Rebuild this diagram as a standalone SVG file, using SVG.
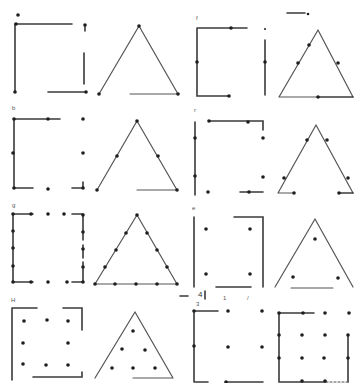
<svg xmlns="http://www.w3.org/2000/svg" width="356" height="383" viewBox="0 0 356 383">
<style>
.l{stroke:#3a3a3a;stroke-width:1.6;fill:none;stroke-linecap:round}
.t{stroke:#555;stroke-width:1.2;fill:none;stroke-linecap:round}
.d{fill:#1e1e1e}
.lb{font-family:"Liberation Sans",Arial,sans-serif;font-size:6px;fill:#555}
.nm{font-family:"Liberation Sans",Arial,sans-serif;font-size:8px;fill:#333}
</style>
<defs><circle id="p" r="1.8" class="d"/></defs>
<rect width="356" height="383" fill="#fff"/>
<g id="connectors">
<!-- fig a -->
<path class="l" d="M16,24H72M85,25V31M15,24V92M84,53V84M48,92H86"/>
<path class="t" d="M139,26L99,94M139,26L178,94M130,94H178"/>
<!-- fig b -->
<path class="l" d="M197,28H247M197,28V96H229M265,40V95"/>
<path class="t" d="M318,30L279,97M318,30L353,97M279,97H318"/>
<path class="l" d="M318,97H353M287,13H305"/>
<!-- fig c -->
<path class="l" d="M14,119H60M14,119V188H33M83,182V188M72,188H83"/>
<path class="t" d="M137,121L97,190M137,121L177,190M137,190H177"/>
<!-- fig d -->
<path class="l" d="M195,122V195M209,121H263V130M240,192H263"/>
<path class="t" d="M316,125L278,193M316,125L353,193M278,193H294"/>
<path class="l" d="M339,193H353"/>
<!-- fig e -->
<path class="l" d="M13,214V282M13,214H33M72,214H83M83,214V240M83,245V258M83,262V282M13,282H33M72,282H83"/>
<path class="t" d="M137,215L95,284M137,215L177,284M95,284H177"/>
<!-- fig f -->
<path class="l" d="M194,217V287M234,217H263V287M216,287H251"/>
<path class="t" d="M315,219L275,287M315,219L353,287M291,288H333"/>
<!-- fig g -->
<path class="l" d="M12,308V380M12,308H37M63,308H82V330M33,377H82V372"/>
<path class="t" d="M135,312L95,378M135,312L173,378M133,378H173"/>
<!-- fig h -->
<path class="l" d="M194,311V382M194,311H218M194,382H208M226,382H263"/>
<path class="l" d="M180,296H188M205,291V299"/>
<!-- fig i -->
<path class="l" d="M279,313H314M279,313V382H326M348,335V382"/>
<path class="t" d="M326,382H348" stroke-dasharray="2 2"/>
</g>
<g id="fig-a">
<use href="#p" x="18" y="15"/><use href="#p" x="16" y="24"/><use href="#p" x="85" y="25"/><use href="#p" x="15" y="92"/><use href="#p" x="86" y="92"/>
<use href="#p" x="139" y="26"/><use href="#p" x="99" y="94"/><use href="#p" x="178" y="94"/>
</g>
<g id="fig-b">
<text class="lb" x="196" y="20">f</text>
<use href="#p" x="231" y="28"/><use href="#p" x="197" y="62"/><use href="#p" x="229" y="96"/><use href="#p" x="265" y="62"/>
<circle cx="265" cy="29" r="1" class="d"/>
<use href="#p" x="309" y="45"/><use href="#p" x="298" y="63"/><use href="#p" x="338" y="63"/><use href="#p" x="318" y="97"/>
<circle cx="308" cy="14" r="1.3" class="d"/>
</g>
<g id="fig-c">
<text class="lb" x="12" y="110">b</text>
<use href="#p" x="14" y="119"/><use href="#p" x="48" y="119"/><use href="#p" x="83" y="119"/>
<use href="#p" x="13" y="153"/><use href="#p" x="83" y="153"/>
<use href="#p" x="14" y="188"/><use href="#p" x="48" y="189"/><use href="#p" x="83" y="188"/>
<use href="#p" x="137" y="121"/><use href="#p" x="117" y="156"/><use href="#p" x="158" y="156"/><use href="#p" x="97" y="190"/><use href="#p" x="177" y="190"/>
</g>
<g id="fig-d">
<text class="lb" x="194" y="112">r</text>
<use href="#p" x="195" y="138"/><use href="#p" x="195" y="176"/><use href="#p" x="209" y="121"/><use href="#p" x="248" y="122"/>
<use href="#p" x="263" y="138"/><use href="#p" x="263" y="177"/><use href="#p" x="208" y="192"/><use href="#p" x="249" y="192"/>
<use href="#p" x="307" y="140"/><use href="#p" x="284" y="178"/><use href="#p" x="327" y="140"/><use href="#p" x="348" y="178"/>
<use href="#p" x="294" y="193"/><use href="#p" x="339" y="193"/>
</g>
<g id="fig-e">
<text class="lb" x="12" y="207">g</text>
<use href="#p" x="13" y="214"/><use href="#p" x="13" y="231"/><use href="#p" x="13" y="248"/><use href="#p" x="13" y="266"/><use href="#p" x="13" y="282"/>
<use href="#p" x="31" y="214"/><use href="#p" x="48" y="214"/><use href="#p" x="64" y="214"/><use href="#p" x="83" y="215"/>
<use href="#p" x="83" y="232"/><use href="#p" x="83" y="249"/><use href="#p" x="83" y="267"/>
<use href="#p" x="31" y="282"/><use href="#p" x="48" y="282"/><use href="#p" x="67" y="282"/><use href="#p" x="83" y="282"/>
<use href="#p" x="137" y="215"/><use href="#p" x="126" y="233"/><use href="#p" x="116" y="250"/><use href="#p" x="105" y="267"/>
<use href="#p" x="147" y="233"/><use href="#p" x="157" y="250"/><use href="#p" x="167" y="267"/>
<use href="#p" x="95" y="284"/><use href="#p" x="115" y="284"/><use href="#p" x="136" y="284"/><use href="#p" x="157" y="284"/><use href="#p" x="177" y="284"/>
</g>
<g id="fig-f">
<text class="lb" x="192" y="210">e</text>
<use href="#p" x="206" y="229"/><use href="#p" x="250" y="229"/><use href="#p" x="206" y="274"/><use href="#p" x="250" y="274"/>
<use href="#p" x="315" y="239"/><use href="#p" x="293" y="277"/><use href="#p" x="338" y="278"/>
</g>
<g id="fig-g">
<text class="lb" x="11" y="302">H</text>
<use href="#p" x="24" y="321"/><use href="#p" x="47" y="320"/><use href="#p" x="68" y="321"/>
<use href="#p" x="23" y="343"/><use href="#p" x="68" y="343"/>
<use href="#p" x="23" y="364"/><use href="#p" x="46" y="365"/><use href="#p" x="68" y="365"/>
<use href="#p" x="133" y="331"/><use href="#p" x="122" y="349"/><use href="#p" x="145" y="350"/>
<use href="#p" x="112" y="368"/><use href="#p" x="133" y="368"/><use href="#p" x="155" y="368"/>
</g>
<g id="fig-h">
<text class="nm" x="198" y="297">4</text>
<text class="lb" x="196" y="306">3</text>
<text class="lb" x="223" y="300">1</text>
<text class="lb" x="247" y="300">/</text>
<use href="#p" x="194" y="311"/><use href="#p" x="228" y="311"/><use href="#p" x="262" y="311"/>
<use href="#p" x="194" y="346"/><use href="#p" x="228" y="347"/><use href="#p" x="262" y="347"/>
<use href="#p" x="226" y="382"/>
</g>
<g id="fig-i">
<use href="#p" x="279" y="313"/><use href="#p" x="303" y="313"/><use href="#p" x="325" y="313"/><use href="#p" x="349" y="313"/>
<use href="#p" x="279" y="335"/><use href="#p" x="302" y="335"/><use href="#p" x="325" y="335"/><use href="#p" x="348" y="335"/>
<use href="#p" x="279" y="358"/><use href="#p" x="302" y="358"/><use href="#p" x="324" y="358"/><use href="#p" x="348" y="358"/>
<use href="#p" x="302" y="381"/><use href="#p" x="325" y="381"/>
</g>
</svg>
